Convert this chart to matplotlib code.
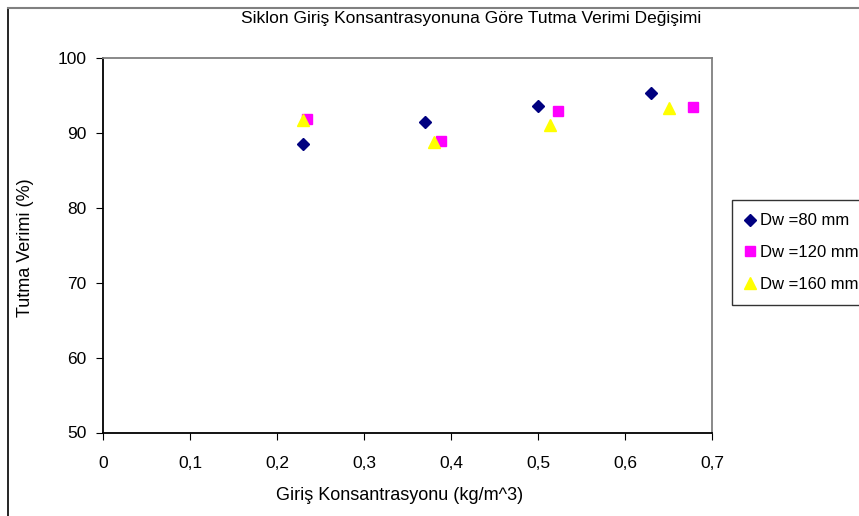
import matplotlib
matplotlib.use("Agg")
import matplotlib.pyplot as plt
from matplotlib.patches import Rectangle

plt.rcParams['font.family'] = ['Liberation Sans', 'DejaVu Sans']

# veri: giriş konsantrasyonu (kg/m^3) ve tutma verimi (%)
x_80 = [0.23, 0.37, 0.50, 0.63]
y_80 = [88.6, 91.5, 93.6, 95.4]
x_120 = [0.235, 0.388, 0.523, 0.678]
y_120 = [91.9, 89.0, 93.0, 93.5]
x_160 = [0.23, 0.38, 0.514, 0.65]
y_160 = [91.8, 88.8, 91.1, 93.3]

labels = ['Dw =80 mm', 'Dw =120 mm', 'Dw =160 mm']
x_ticks = [0, 0.1, 0.2, 0.3, 0.4, 0.5, 0.6, 0.7]
x_tick_labels = ['0', '0,1', '0,2', '0,3', '0,4', '0,5', '0,6', '0,7']
y_ticks = [50, 60, 70, 80, 90, 100]

W, H = 859, 516
fig = plt.figure(figsize=(W / 100, H / 100), dpi=100)
ax = fig.add_axes([103 / W, 1 - 432.5 / H, (712 - 103) / W, (432.5 - 58.3) / H])

# dış çerçeve
fig.add_artist(Rectangle((8 / W, -0.05), 1.0, 1 - 8 / H + 0.05, transform=fig.transFigure,
                         fill=False, edgecolor='black', linewidth=1.2))
fig.add_artist(plt.Line2D([8 / W, 1], [1 - 8 / H, 1 - 8 / H], transform=fig.transFigure,
                          color='#808080', linewidth=1.5))

ax.plot(x_80, y_80, linestyle='none', marker='D', ms=6.5, color='#000080', label=labels[0])
ax.plot(x_120, y_120, linestyle='none', marker='s', ms=7, color='#ff00ff', label=labels[1])
ax.plot(x_160, y_160, linestyle='none', marker='^', ms=9, color='#ffff00', label=labels[2])

ax.set_xlim(0, 0.7)
ax.set_ylim(50, 100)
ax.set_xticks(x_ticks)
ax.set_xticklabels(x_tick_labels)
ax.set_yticks(y_ticks)
ax.tick_params(axis='x', direction='out', length=5, pad=12, labelsize=12.5)
ax.tick_params(axis='y', direction='out', length=5, pad=7, labelsize=12.5)

ax.spines['left'].set_color('black')
ax.spines['bottom'].set_color('black')
ax.spines['top'].set_color('#808080')
ax.spines['right'].set_color('#808080')
for s in ax.spines.values():
    s.set_linewidth(1.3)

fig.text(471 / W, 1 - 19 / H, 'Siklon Giriş Konsantrasyonuna Göre Tutma Verimi Değişimi',
         ha='center', va='center', fontsize=12.5)
fig.text(400 / W, 1 - 496 / H, 'Giriş Konsantrasyonu (kg/m^3)', ha='center', va='center', fontsize=13)
fig.text(26 / W, 1 - 248 / H, 'Tutma Verimi (%)', ha='center', va='center', rotation=90, fontsize=13)

leg = fig.legend(loc='upper left', bbox_to_anchor=(732 / W, 1 - 200 / H), fontsize=12,
                 frameon=True, fancybox=False, edgecolor='black', handlelength=0.6,
                 handletextpad=0.25, labelspacing=1.0, borderpad=0.8, borderaxespad=0)
leg.get_frame().set_linewidth(1.0)

fig.savefig('out.png', dpi=100, facecolor='white')
